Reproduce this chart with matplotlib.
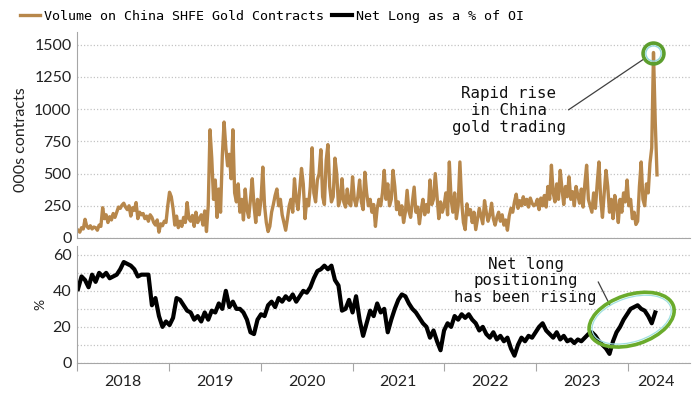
import matplotlib.pyplot as plt
import matplotlib.dates as mdates
from matplotlib.patches import Ellipse
from matplotlib.transforms import IdentityTransform
import numpy as np
import pandas as pd

# weekly volume, 000s contracts
vol_2018 = [60, 45, 80, 70, 145, 90, 75, 95, 70, 85,
            80, 60, 100, 90,
            235, 150, 180, 120, 165, 140, 190, 160,
            200, 240, 230, 255, 270, 240, 220, 250, 170, 235, 215, 275,
            150, 200, 180, 190, 150, 170, 130, 180, 160, 120, 100, 140, 45,
            110, 95, 130, 120, 250]
vol_2019 = [355, 320, 230,
            100, 170, 80, 130, 90, 160, 120,
            275, 150,
            130, 175, 90, 200, 120, 150, 180, 100, 210, 50,
            250, 840, 620, 300, 450, 160, 380, 200, 640, 900, 700, 560, 650, 460, 840, 350, 280,
            420, 200, 300, 140, 380, 220, 160, 300, 460, 250, 120, 300, 180]
vol_2020 = [300, 550, 250, 120, 50, 90, 200, 260, 330, 380,
            250, 300, 180, 120, 60, 150, 250, 300, 200, 460,
            300, 220, 380, 540, 420, 150, 300, 250, 400, 700,
            350, 280, 450, 500, 685, 320, 260, 600, 725, 400,
            280, 320, 620, 500, 250, 300, 460, 280, 240, 380,
            270, 250]
vol_2021 = [475, 300, 250, 320, 450, 280, 220, 510, 350, 250,
            300, 200, 260, 90, 230, 300, 250, 350, 525, 300,
            420, 250, 300, 525, 400, 220, 280, 180, 250, 120,
            200, 370, 210, 160, 280, 395, 200, 240, 110, 220,
            300, 180, 260, 200, 450, 260, 300, 500, 330, 150,
            280, 200]
vol_2022 = [250, 350, 180, 590, 300, 200, 350, 150, 250, 590,
            280, 120, 65, 265, 180, 220, 120, 200, 65, 150,
            230, 170, 110, 290, 200, 130, 180, 270, 150, 100,
            160, 200, 130, 180, 100, 140, 60, 170, 230, 200,
            280, 340, 230, 290, 250, 320, 260, 300, 240, 310,
            270, 250]
vol_2023 = [260, 300, 220, 310, 250, 330, 240, 400, 300, 565,
            350, 280, 420, 300, 525, 380, 260, 400, 320, 475,
            300, 360, 250, 400, 330, 270, 380, 240, 420, 565,
            300, 250, 200, 350, 230, 420, 590, 300, 160, 350,
            525, 400, 200, 300, 150, 330, 250, 120, 300, 200,
            350, 280]
vol_2024 = [450, 250, 300, 150, 200, 105, 130, 400, 590, 300,
            250, 420, 350, 580, 700, 1440, 900, 490]

# fortnightly net long as % of open interest
nl_2018 = [41, 48, 46, 42, 49, 45, 50, 48, 50, 47, 48, 49, 52, 56, 55, 54, 52, 48, 49, 49,
           49, 32, 36, 26, 20, 23]
nl_2019 = [21, 25, 36, 35, 32, 29, 28, 24, 26, 23, 28, 24, 29, 28, 33, 30, 40, 31, 34, 30,
           30, 28, 24, 17, 16, 24]
nl_2020 = [27, 26, 32, 34, 31, 36, 34, 37, 35, 38, 34, 37, 40, 39, 42, 47, 51, 52, 54, 52,
           54, 46, 43, 29, 30, 35]
nl_2021 = [28, 37, 24, 15, 22, 29, 26, 33, 28, 30, 17, 24, 30, 35, 38, 37, 33, 30, 28, 25,
           22, 20, 14, 18, 12, 7]
nl_2022 = [18, 22, 20, 26, 24, 27, 25, 27, 24, 22, 18, 20, 16, 14, 17, 13, 15, 12, 14, 8,
           4, 10, 14, 12, 15, 14]
nl_2023 = [17, 20, 22, 18, 16, 14, 17, 13, 15, 12, 13, 11, 13, 12, 14, 16, 17, 15, 12, 10,
           8, 5, 12, 17, 20, 24]
nl_2024 = [27, 30, 31, 32, 30, 29, 26, 22, 28]

volume = vol_2018 + vol_2019 + vol_2020 + vol_2021 + vol_2022 + vol_2023 + vol_2024
netlong = nl_2018 + nl_2019 + nl_2020 + nl_2021 + nl_2022 + nl_2023 + nl_2024
vol_dates = pd.date_range('2018-01-05', periods=len(volume), freq='W-FRI')
nl_dates = pd.date_range('2018-01-05', periods=len(netlong), freq='2W-FRI')

years = [2018, 2019, 2020, 2021, 2022, 2023, 2024]
year_labels = [str(y) for y in years]

mono = 'DejaVu Sans Mono'
sans = 'Lato'
gold = '#b7874b'
spine_c = '#a6a6a6'
grid_c = '#c4c4c4'

fig = plt.figure(figsize=(7, 3.94), dpi=100)
ax1 = fig.add_axes([0.110, 0.396, 0.876, 0.523])
ax2 = fig.add_axes([0.110, 0.079, 0.876, 0.297], sharex=ax1)

l1, = ax1.plot(vol_dates, volume, color=gold, lw=2.4, solid_joinstyle='round')
l2, = ax2.plot(nl_dates, netlong, color='black', lw=3.0, solid_joinstyle='round')

xmin, xmax = pd.Timestamp('2018-01-01'), pd.Timestamp('2024-09-05')
ax2.set_xlim(xmin, xmax)
ax1.set_ylim(0, 1600)
ax2.set_ylim(0, 65)

for ax in (ax1, ax2):
    for s in ('top', 'right'):
        ax.spines[s].set_visible(False)
    ax.spines['left'].set_color(spine_c)
    ax.spines['bottom'].set_color(spine_c)
    ax.set_axisbelow(True)
    ax.tick_params(axis='y', length=0, pad=4, labelsize=11.5, labelcolor='#222222')

ax1.set_yticks([0, 250, 500, 750, 1000, 1250, 1500])
ax1.yaxis.grid(True, linestyle=(0, (1, 1.6)), color=grid_c, lw=0.9)
ax1.tick_params(axis='x', which='both', length=0, labelbottom=False)

ax2.set_yticks([0, 20, 40, 60])
ax2.set_yticks([10, 30, 50], minor=True)
ax2.tick_params(axis='y', which='minor', length=0)
ax2.yaxis.grid(True, which='both', linestyle=(0, (1, 1.6)), color=grid_c, lw=0.9)

# year boundaries as ticks, year names centred between them
ax2.xaxis.set_major_locator(mdates.YearLocator())
ax2.xaxis.set_major_formatter(plt.NullFormatter())
label_pos = [pd.Timestamp(f'{y}-07-02') for y in years[:-1]] + [pd.Timestamp('2024-04-20')]
ax2.set_xticks(mdates.date2num(label_pos), minor=True)
ax2.set_xticklabels(year_labels, minor=True)
ax2.tick_params(axis='x', which='major', length=6, color=spine_c, direction='out')
ax2.tick_params(axis='x', which='minor', length=0, pad=9, labelsize=11.5, labelcolor='#222222')
for lab in ax2.get_xticklabels(minor=True):
    lab.set_family(sans)

for lab in ax1.get_yticklabels() + ax2.get_yticklabels():
    lab.set_family(sans)

fig.text(21 / 700, 1 - 140 / 394, '000s contracts', rotation=90, ha='center', va='center',
         family=sans, size=11.5, color='#222222')
fig.text(40 / 700, 1 - 304 / 394, '%', rotation=90, ha='center', va='center',
         family=sans, size=10, color='#222222')

# top annotation
peak = int(np.argmax(volume))
ax1.plot(vol_dates[peak], volume[peak], 'o', ms=15, mfc='none', mec='#5c9e2e', mew=2.6, zorder=5)
ax1.plot(vol_dates[peak], volume[peak], 'o', ms=11, mfc='none', mec='#8fd6dc', mew=1.0, zorder=5)
ax1.annotate('', xy=(vol_dates[peak], volume[peak]), xytext=(pd.Timestamp('2023-05-10'), 995),
             arrowprops=dict(arrowstyle='-', color='#404040', lw=0.9, shrinkA=0, shrinkB=8))
ax1.text(pd.Timestamp('2022-09-15'), 990, 'Rapid rise\nin China\ngold trading', ha='center',
         va='center', family=mono, size=11.3, color='#111111', linespacing=1.15)

# bottom annotation
ax2.annotate('', xy=(pd.Timestamp('2023-10-22'), 32), xytext=(pd.Timestamp('2023-09-05'), 45),
             arrowprops=dict(arrowstyle='-', color='#404040', lw=0.9, shrinkA=0, shrinkB=0))
ax2.text(pd.Timestamp('2022-11-20'), 45.5, 'Net long\npositioning\nhas been rising', ha='center',
         va='center', family=mono, size=11.3, color='#111111', linespacing=1.15)

cx, cy = ax2.transData.transform((mdates.date2num(pd.Timestamp('2024-01-16')), 24))
fig.add_artist(Ellipse((cx, cy), 88, 50, angle=18, transform=IdentityTransform(),
                       fill=False, ec='#6aab2c', lw=2.6))
fig.add_artist(Ellipse((cx, cy), 82, 44, angle=18, transform=IdentityTransform(),
                       fill=False, ec='#9fe0e0', lw=0.9))

fig.legend([l1, l2], ['Volume on China SHFE Gold Contracts', 'Net Long as a % of OI'],
           loc='upper left', bbox_to_anchor=(0.012, 1.005), ncol=2, frameon=False,
           prop=dict(family=mono, size=9.6), handlelength=1.5, handletextpad=0.3,
           columnspacing=0.6)

fig.savefig('out.png', dpi=100)
